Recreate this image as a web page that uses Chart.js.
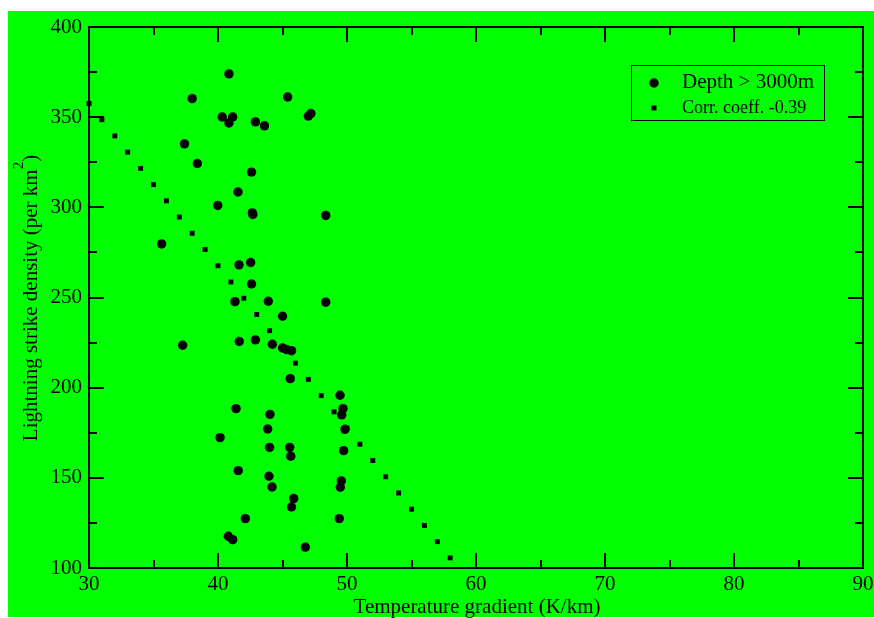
<!DOCTYPE html>
<html>
<head>
<meta charset="utf-8">
<script src="https://cdn.jsdelivr.net/npm/chart.js@4.4.1/dist/chart.umd.min.js"></script>
<style>
  html, body { margin: 0; padding: 0; background: #ffffff; }
  canvas { display: block; }
</style>
</head>
<body>
<canvas id="c" width="874" height="618"></canvas>
<script>
// ---- data ----
const gradX = [40.85, 38.0, 45.4, 40.33, 41.14, 40.85, 42.9, 43.6, 47.0, 47.2,
  37.4, 38.4, 42.6, 41.55, 39.98, 42.66, 42.7, 48.35, 35.63, 41.63,
  42.53, 42.6, 41.32, 43.9, 48.35, 45.0, 37.26, 41.65, 42.9, 44.21,
  45.0, 45.3, 45.7, 45.6, 49.46, 41.4, 44.03, 49.69, 49.59, 43.85,
  49.84, 40.16, 44.0, 45.56, 45.64, 49.74, 41.57, 43.95, 44.19, 49.56,
  49.48, 45.87, 45.7, 42.12, 49.4, 40.8, 41.14, 46.77];
const densityY = [374, 360.3, 361.2, 350.1, 350.1, 346.8, 347.4, 345.2, 350.6, 352.0,
  335.2, 324.3, 319.5, 308.5, 301, 296.9, 296.0, 295.5, 279.7, 268.1,
  269.4, 257.5, 247.7, 247.9, 247.4, 239.6, 223.5, 225.6, 226.5, 224.1,
  222.0, 221.2, 220.5, 205.0, 195.8, 188.4, 185.2, 188.4, 184.9, 177.1,
  176.9, 172.3, 166.9, 166.9, 162.0, 165.1, 154.0, 150.9, 144.9, 148.3,
  144.8, 138.5, 133.8, 127.4, 127.4, 117.6, 115.7, 111.6];
const fitX = [30, 31, 32, 33, 34, 35, 36, 37, 38, 39, 40, 41, 42, 43, 44,
  45, 46, 47, 48, 49, 50, 51, 52, 53, 54, 55, 56, 57, 58];
const fitY = [357.6, 348.6, 339.6, 330.6, 321.6, 312.6, 303.6, 294.6, 285.6, 276.6,
  267.6, 258.6, 249.6, 240.6, 231.6, 222.6, 213.6, 204.6, 195.6, 186.6,
  177.6, 168.6, 159.6, 150.6, 141.6, 132.6, 123.6, 114.6, 105.6];
const xTicks = [30, 40, 50, 60, 70, 80, 90];
const yTicks = [100, 150, 200, 250, 300, 350, 400];
const xMinor = [35, 45, 55, 65, 75, 85];
const yMinor = [125, 175, 225, 275, 325, 375];
const seriesLabels = ['Depth > 3000m', 'Corr. coeff. -0.39'];
const xTitle = 'Temperature gradient (K/km)';
const yTitleMain = 'Lightning strike density (per km';
const yTitleSup = '2';
const yTitleEnd = ')';

const SERIF = '"Liberation Serif", "DejaVu Serif", serif';

const scatterData = gradX.map((x, i) => ({ x: x, y: densityY[i] }));
const fitData = fitX.map((x, i) => ({ x: x, y: fitY[i] }));

const decorPlugin = {
  id: 'decor',
  beforeDraw(chart) {
    const ctx = chart.ctx;
    ctx.save();
    ctx.fillStyle = '#ffffff';
    ctx.fillRect(0, 0, chart.width, chart.height);
    ctx.fillStyle = '#00ff00';
    ctx.fillRect(8, 11, chart.width - 8, 617 - 11);
    ctx.restore();
  },
  beforeDatasetsDraw(chart) {
    const ctx = chart.ctx;
    const a = chart.chartArea;
    const xs = chart.scales.x, ys = chart.scales.y;
    ctx.save();
    ctx.strokeStyle = '#000000';
    ctx.lineWidth = 2;
    ctx.strokeRect(a.left, a.top, a.right - a.left, a.bottom - a.top);
    ctx.beginPath();
    const tick = (vals, len) => {
      vals.forEach(v => {
        const px = Math.round(xs.getPixelForValue(v));
        ctx.moveTo(px, a.bottom); ctx.lineTo(px, a.bottom - len);
        ctx.moveTo(px, a.top); ctx.lineTo(px, a.top + len);
      });
    };
    const ytick = (vals, len) => {
      vals.forEach(v => {
        const py = Math.round(ys.getPixelForValue(v));
        ctx.moveTo(a.left, py); ctx.lineTo(a.left + len, py);
        ctx.moveTo(a.right, py); ctx.lineTo(a.right - len, py);
      });
    };
    tick(xTicks, 15); tick(xMinor, 8);
    ytick(yTicks, 15); ytick(yMinor, 8);
    ctx.stroke();
    ctx.restore();
  },
  afterDraw(chart) {
    const ctx = chart.ctx;
    const a = chart.chartArea;
    ctx.save();
    ctx.fillStyle = '#000000';
    // x title
    ctx.font = '21px ' + SERIF;
    ctx.textAlign = 'center';
    ctx.textBaseline = 'alphabetic';
    ctx.fillText(xTitle, (a.left + a.right) / 2 + 1, 613);
    // y title (rotated, with superscript)
    const mainFont = '21px ' + SERIF, supFont = '15px ' + SERIF;
    ctx.font = mainFont;
    const w1 = ctx.measureText(yTitleMain).width;
    const w3 = ctx.measureText(yTitleEnd).width;
    ctx.font = supFont;
    const w2 = ctx.measureText(yTitleSup).width;
    const total = w1 + w2 + w3;
    ctx.translate(37, 298);
    ctx.rotate(-Math.PI / 2);
    ctx.textAlign = 'left';
    let sx = -total / 2;
    ctx.font = mainFont;
    ctx.fillText(yTitleMain, sx, 0);
    sx += w1;
    ctx.font = supFont;
    ctx.fillText(yTitleSup, sx, -14);
    sx += w2;
    ctx.font = mainFont;
    ctx.fillText(yTitleEnd, sx, 0);
    ctx.setTransform(1, 0, 0, 1, 0, 0);
    // legend
    ctx.lineWidth = 1;
    ctx.strokeStyle = '#000000';
    ctx.strokeRect(631.5, 65.5, 193, 55);
    const ds0 = chart.data.datasets[0], ds1 = chart.data.datasets[1];
    ctx.beginPath();
    ctx.arc(654, 83, ds0.pointRadius, 0, Math.PI * 2);
    ctx.fill();
    const side = ds1.pointRadius * Math.SQRT1_2 * 2;
    ctx.fillRect(654 - side / 2, 108 - side / 2, side, side);
    ctx.textAlign = 'left';
    ctx.font = '21px ' + SERIF;
    ctx.fillText(ds0.label, 682, 88);
    ctx.font = '18px ' + SERIF;
    ctx.fillText(ds1.label, 682, 112.5);
    ctx.restore();
  }
};

new Chart(document.getElementById('c'), {
  type: 'scatter',
  data: {
    datasets: [
      {
        label: seriesLabels[0],
        data: scatterData,
        pointStyle: 'circle',
        pointRadius: 4.7,
        pointHoverRadius: 4.7,
        backgroundColor: '#000000',
        borderWidth: 0,
        clip: false
      },
      {
        label: seriesLabels[1],
        data: fitData,
        pointStyle: 'rect',
        pointRadius: 3.5,
        pointHoverRadius: 3.5,
        backgroundColor: '#000000',
        borderWidth: 0,
        showLine: false,
        clip: false
      }
    ]
  },
  options: {
    responsive: false,
    animation: false,
    devicePixelRatio: 1,
    layout: { padding: { left: 0, top: 27, right: 11, bottom: 0 } },
    plugins: {
      legend: { display: false },
      tooltip: { enabled: false },
      title: { display: false }
    },
    scales: {
      x: {
        type: 'linear',
        min: 30, max: 90,
        afterBuildTicks(scale) { scale.ticks = xTicks.map(v => ({ value: v })); },
        afterFit(scale) {
          scale.height = 50;
          scale.paddingLeft = 0; scale.paddingRight = 0;
          scale.paddingTop = 0; scale.paddingBottom = 0;
        },
        grid: { display: false, drawTicks: false },
        border: { display: false },
        ticks: {
          autoSkip: false, maxRotation: 0, padding: 4,
          color: '#000000',
          font: { family: SERIF, size: 21 }
        }
      },
      y: {
        type: 'linear',
        min: 100, max: 400,
        afterBuildTicks(scale) { scale.ticks = yTicks.map(v => ({ value: v })); },
        afterFit(scale) {
          scale.width = 89;
          scale.paddingLeft = 0; scale.paddingRight = 0;
          scale.paddingTop = 0; scale.paddingBottom = 0;
        },
        grid: { display: false, drawTicks: false },
        border: { display: false },
        ticks: {
          autoSkip: false, padding: 7,
          color: '#000000',
          font: { family: SERIF, size: 21 }
        }
      }
    }
  },
  plugins: [decorPlugin]
});
</script>
</body>
</html>
